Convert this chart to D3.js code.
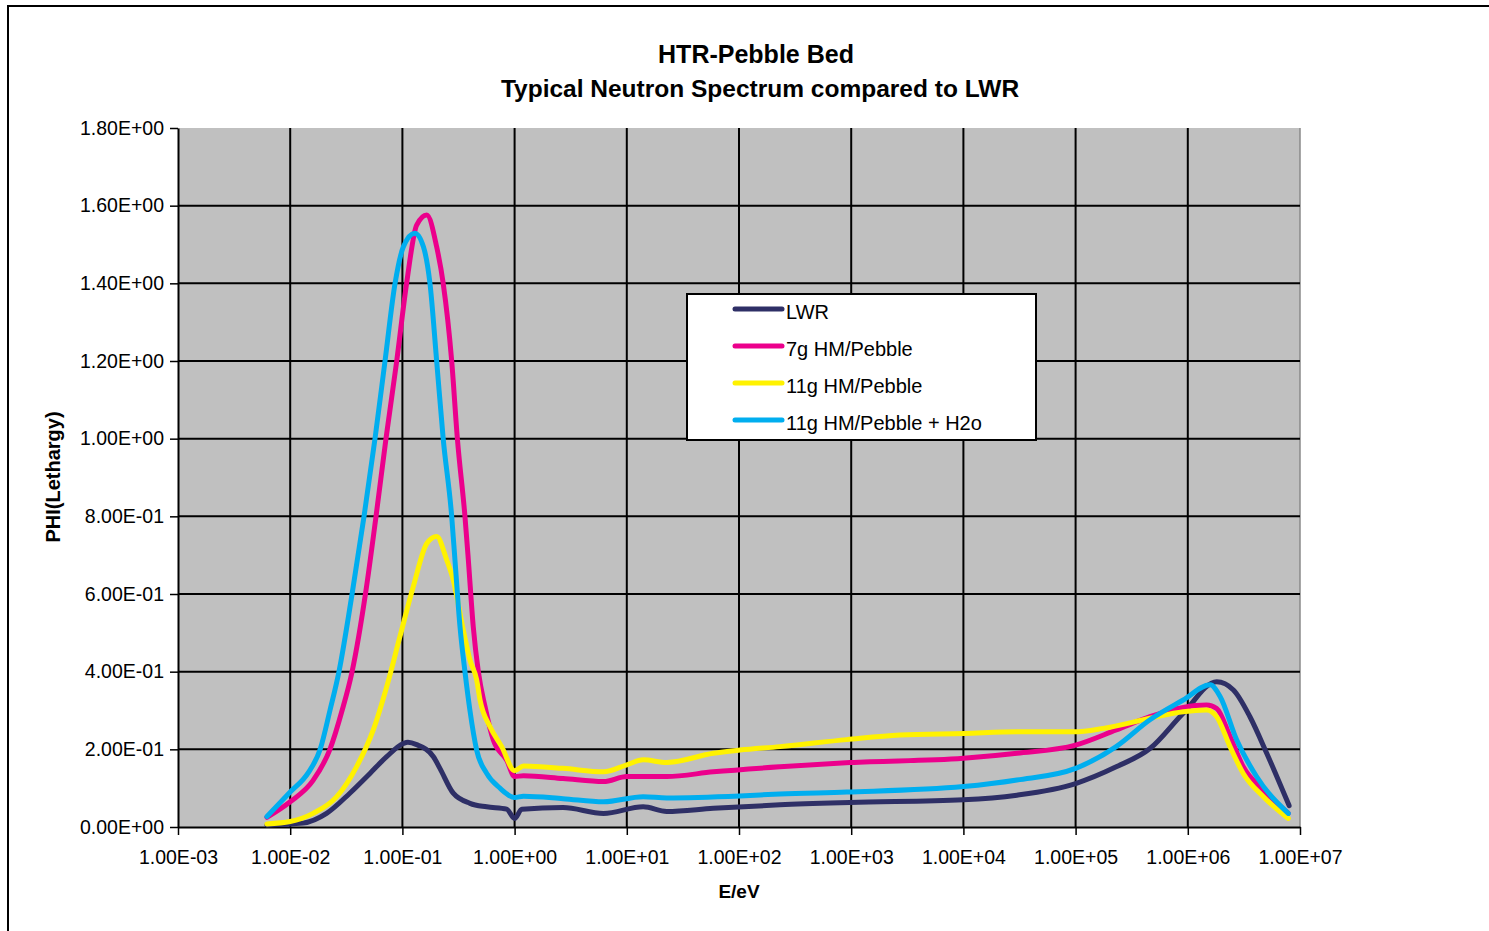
<!DOCTYPE html>
<html>
<head>
<meta charset="utf-8">
<script src="https://cdn.jsdelivr.net/npm/d3@7"></script>
<style>
  body { margin: 0; background: #fff; }
  svg { display: block; }
  text { font-family: "Liberation Sans", Arial, Helvetica, sans-serif; fill: #000; }
</style>
</head>
<body>
<div id="chart"></div>
<script>
// axis ticks and labels
var xTicks = [1e-3, 1e-2, 1e-1, 1e0, 1e1, 1e2, 1e3, 1e4, 1e5, 1e6, 1e7];
var xTickLabels = ["1.00E-03", "1.00E-02", "1.00E-01", "1.00E+00", "1.00E+01", "1.00E+02",
                   "1.00E+03", "1.00E+04", "1.00E+05", "1.00E+06", "1.00E+07"];
var yTicks = [0, 0.2, 0.4, 0.6, 0.8, 1.0, 1.2, 1.4, 1.6, 1.8];
var yTickLabels = ["0.00E+00", "2.00E-01", "4.00E-01", "6.00E-01", "8.00E-01",
                   "1.00E+00", "1.20E+00", "1.40E+00", "1.60E+00", "1.80E+00"];

var seriesNames = ["LWR", "7g HM/Pebble", "11g HM/Pebble", "11g HM/Pebble + H2o"];
var seriesColors = ["#2e2f66", "#ec008c", "#fff200", "#00aeef"];

// LWR
var lwrE = [0.0062, 0.013, 0.0211, 0.034, 0.0514, 0.0724, 0.102, 0.112, 0.134, 0.189, 0.216, 0.284, 0.4, 0.564, 0.85, 1.0, 1.16,
            2.7, 6.2, 14, 22.7, 59, 232, 975, 1e4, 3e4, 1e5, 2.3e5, 4.6e5, 9.1e5, 1.81e6, 2.55e6, 3.58e6, 5.05e6, 8e6];
var lwrPhi = [0.005, 0.01, 0.035, 0.087, 0.138, 0.181, 0.215, 0.218, 0.212, 0.181, 0.151, 0.087, 0.061, 0.052, 0.046, 0.022, 0.046,
              0.05, 0.035, 0.052, 0.04, 0.048, 0.057, 0.063, 0.07, 0.082, 0.112, 0.155, 0.202, 0.293, 0.374, 0.353, 0.284, 0.19, 0.055];

// 7g HM/Pebble
var g7E = [0.0062, 0.01, 0.016, 0.0226, 0.029, 0.0356, 0.0474, 0.0582, 0.0714, 0.089, 0.109, 0.134, 0.165, 0.202, 0.231,
           0.275, 0.309, 0.361, 0.387, 0.428, 0.475, 0.545, 0.646, 0.851, 1.0, 1.2, 2.7, 6.2, 10, 22.7, 59, 232, 975,
           1e4, 3e4, 1e5, 2.3e5, 4.6e5, 9.1e5, 1.47e6, 1.81e6, 2.38e6, 3.12e6, 4.71e6, 7.87e6];
var g7Phi = [0.025, 0.065, 0.12, 0.2, 0.3, 0.4, 0.61, 0.8, 1.0, 1.2, 1.4, 1.55, 1.576, 1.494, 1.4,
             1.2, 1.0, 0.8, 0.688, 0.516, 0.4, 0.31, 0.224, 0.172, 0.13, 0.132, 0.125, 0.117, 0.13, 0.13, 0.142, 0.155, 0.166,
             0.177, 0.19, 0.211, 0.25, 0.284, 0.308, 0.314, 0.305, 0.233, 0.155, 0.095, 0.035];

// 11g HM/Pebble
var g11E = [0.0062, 0.01, 0.016, 0.026, 0.039, 0.055, 0.0724, 0.095, 0.125, 0.165, 0.202, 0.248, 0.284, 0.349, 0.4,
            0.459, 0.492, 0.604, 0.767, 1.0, 1.2, 2.7, 6.2, 10, 14, 22.7, 59, 102, 232, 912, 2720, 1.02e4, 3e4, 9.7e4,
            1.77e5, 4.6e5, 9.1e5, 1.47e6, 1.81e6, 2.38e6, 3.12e6, 4.71e6, 7.87e6];
var g11Phi = [0.008, 0.014, 0.035, 0.078, 0.155, 0.25, 0.361, 0.49, 0.619, 0.73, 0.748, 0.688, 0.636, 0.507, 0.43,
              0.379, 0.327, 0.258, 0.207, 0.145, 0.157, 0.151, 0.142, 0.16, 0.173, 0.166, 0.19, 0.198, 0.207, 0.225, 0.237, 0.241, 0.245, 0.245,
              0.254, 0.28, 0.297, 0.301, 0.284, 0.207, 0.138, 0.078, 0.022];

// 11g HM/Pebble + H2o
var h2oE = [0.0062, 0.01, 0.0145, 0.0185, 0.0226, 0.0272, 0.0356, 0.0455, 0.057, 0.07, 0.086, 0.102, 0.129, 0.154,
            0.176, 0.202, 0.231, 0.275, 0.294, 0.326, 0.361, 0.4, 0.459, 0.564, 0.741, 1.0, 1.2, 2.7, 6.2, 14, 22.7,
            102, 232, 912, 1e4, 3e4, 1e5, 2.3e5, 4.6e5, 9.1e5, 1.58e6, 1.94e6, 2.73e6, 4.1e6, 7.87e6];
var h2oPhi = [0.027, 0.09, 0.14, 0.2, 0.3, 0.4, 0.6, 0.8, 1.0, 1.2, 1.4, 1.494, 1.529, 1.494,
              1.4, 1.2, 1.0, 0.8, 0.688, 0.516, 0.4, 0.30, 0.198, 0.138, 0.10, 0.076, 0.079, 0.073, 0.065, 0.078, 0.075,
              0.08, 0.085, 0.09, 0.104, 0.121, 0.151, 0.207, 0.276, 0.327, 0.366, 0.336, 0.224, 0.13, 0.035];

var series = [
  { e: lwrE, phi: lwrPhi },
  { e: g7E, phi: g7Phi },
  { e: g11E, phi: g11Phi },
  { e: h2oE, phi: h2oPhi }
];

var W = 1489, H = 931;
var plotLeft = 178, plotRight = 1300, plotTop = 128, plotBottom = 827;

var svg = d3.select("#chart").append("svg")
  .attr("width", W)
  .attr("height", H);

svg.append("rect").attr("width", W).attr("height", H).attr("fill", "#fff");

// outer frame (left and top edge visible)
svg.append("path")
  .attr("d", "M8," + H + "V6H" + W)
  .attr("fill", "none")
  .attr("stroke", "#000")
  .attr("stroke-width", 2);

var x = d3.scaleLog().domain([1e-3, 1e7]).range([plotLeft, plotRight]);
var y = d3.scaleLinear().domain([0, 1.8]).range([plotBottom, plotTop]);

// plot area
svg.append("rect")
  .attr("x", plotLeft).attr("y", plotTop)
  .attr("width", plotRight - plotLeft).attr("height", plotBottom - plotTop)
  .attr("fill", "#c0c0c0");

svg.append("line")
  .attr("x1", plotRight).attr("x2", plotRight).attr("y1", plotTop).attr("y2", plotBottom)
  .attr("stroke", "#8a8a8a").attr("stroke-width", 1.5);

// gridlines
svg.append("g").selectAll("line")
  .data(yTicks.filter(function(d) { return d > 0 && d < 1.8; }))
  .enter().append("line")
  .attr("x1", plotLeft).attr("x2", plotRight)
  .attr("y1", function(d) { return y(d); })
  .attr("y2", function(d) { return y(d); })
  .attr("stroke", "#000").attr("stroke-width", 2);

svg.append("g").selectAll("line")
  .data(xTicks.filter(function(d) { return d > 1e-3 && d < 1e7; }))
  .enter().append("line")
  .attr("y1", plotTop).attr("y2", plotBottom)
  .attr("x1", function(d) { return x(d); })
  .attr("x2", function(d) { return x(d); })
  .attr("stroke", "#000").attr("stroke-width", 2);

// axes
var xAxis = d3.axisBottom(x)
  .tickValues(xTicks)
  .tickFormat(function(d, i) { return xTickLabels[i]; })
  .tickSize(8).tickSizeOuter(0).tickPadding(15);

var yAxis = d3.axisLeft(y)
  .tickValues(yTicks)
  .tickFormat(function(d, i) { return yTickLabels[i]; })
  .tickSize(8).tickSizeOuter(0).tickPadding(6);

var gx = svg.append("g").attr("transform", "translate(0," + plotBottom + ")").call(xAxis);
var gy = svg.append("g").attr("transform", "translate(" + plotLeft + ",0)").call(yAxis);

[gx, gy].forEach(function(g) {
  g.selectAll("path.domain").attr("stroke", "#000").attr("stroke-width", 2);
  g.selectAll(".tick line").attr("stroke", "#000").attr("stroke-width", 1.5);
  g.selectAll(".tick text")
    .attr("font-family", "'Liberation Sans', Arial, sans-serif")
    .attr("font-size", 19.5)
    .attr("fill", "#000");
});

// series lines
var line = d3.line()
  .x(function(d) { return x(d[0]); })
  .y(function(d) { return y(d[1]); })
  .curve(d3.curveMonotoneX);

svg.append("g").selectAll("path")
  .data(series)
  .enter().append("path")
  .attr("d", function(s) { return line(s.e.map(function(v, i) { return [v, s.phi[i]]; })); })
  .attr("fill", "none")
  .attr("stroke", function(s, i) { return seriesColors[i]; })
  .attr("stroke-width", 5)
  .attr("stroke-linejoin", "round")
  .attr("stroke-linecap", "round");

// titles
svg.append("text")
  .attr("x", 756).attr("y", 63)
  .attr("text-anchor", "middle")
  .attr("font-size", 25).attr("font-weight", "bold")
  .text("HTR-Pebble Bed");

svg.append("text")
  .attr("x", 760).attr("y", 97)
  .attr("text-anchor", "middle")
  .attr("font-size", 24.5).attr("font-weight", "bold")
  .text("Typical Neutron Spectrum compared to LWR");

svg.append("text")
  .attr("x", 739).attr("y", 898)
  .attr("text-anchor", "middle")
  .attr("font-size", 19).attr("font-weight", "bold")
  .text("E/eV");

svg.append("text")
  .attr("transform", "translate(60,477) rotate(-90)")
  .attr("text-anchor", "middle")
  .attr("font-size", 20).attr("font-weight", "bold")
  .text("PHI(Lethargy)");

// legend
var legend = svg.append("g").attr("transform", "translate(687,294)");
legend.append("rect")
  .attr("width", 349).attr("height", 146)
  .attr("fill", "#fff").attr("stroke", "#000").attr("stroke-width", 2);

var item = legend.selectAll(".item")
  .data(seriesNames)
  .enter().append("g")
  .attr("class", "item")
  .attr("transform", function(d, i) { return "translate(0," + (15 + i * 37) + ")"; });

item.append("line")
  .attr("x1", 48).attr("x2", 95)
  .attr("stroke", function(d, i) { return seriesColors[i]; })
  .attr("stroke-width", 5)
  .attr("stroke-linecap", "round");

item.append("text")
  .attr("x", 99).attr("y", 10)
  .attr("font-size", 20)
  .text(function(d) { return d; });
</script>
</body>
</html>
